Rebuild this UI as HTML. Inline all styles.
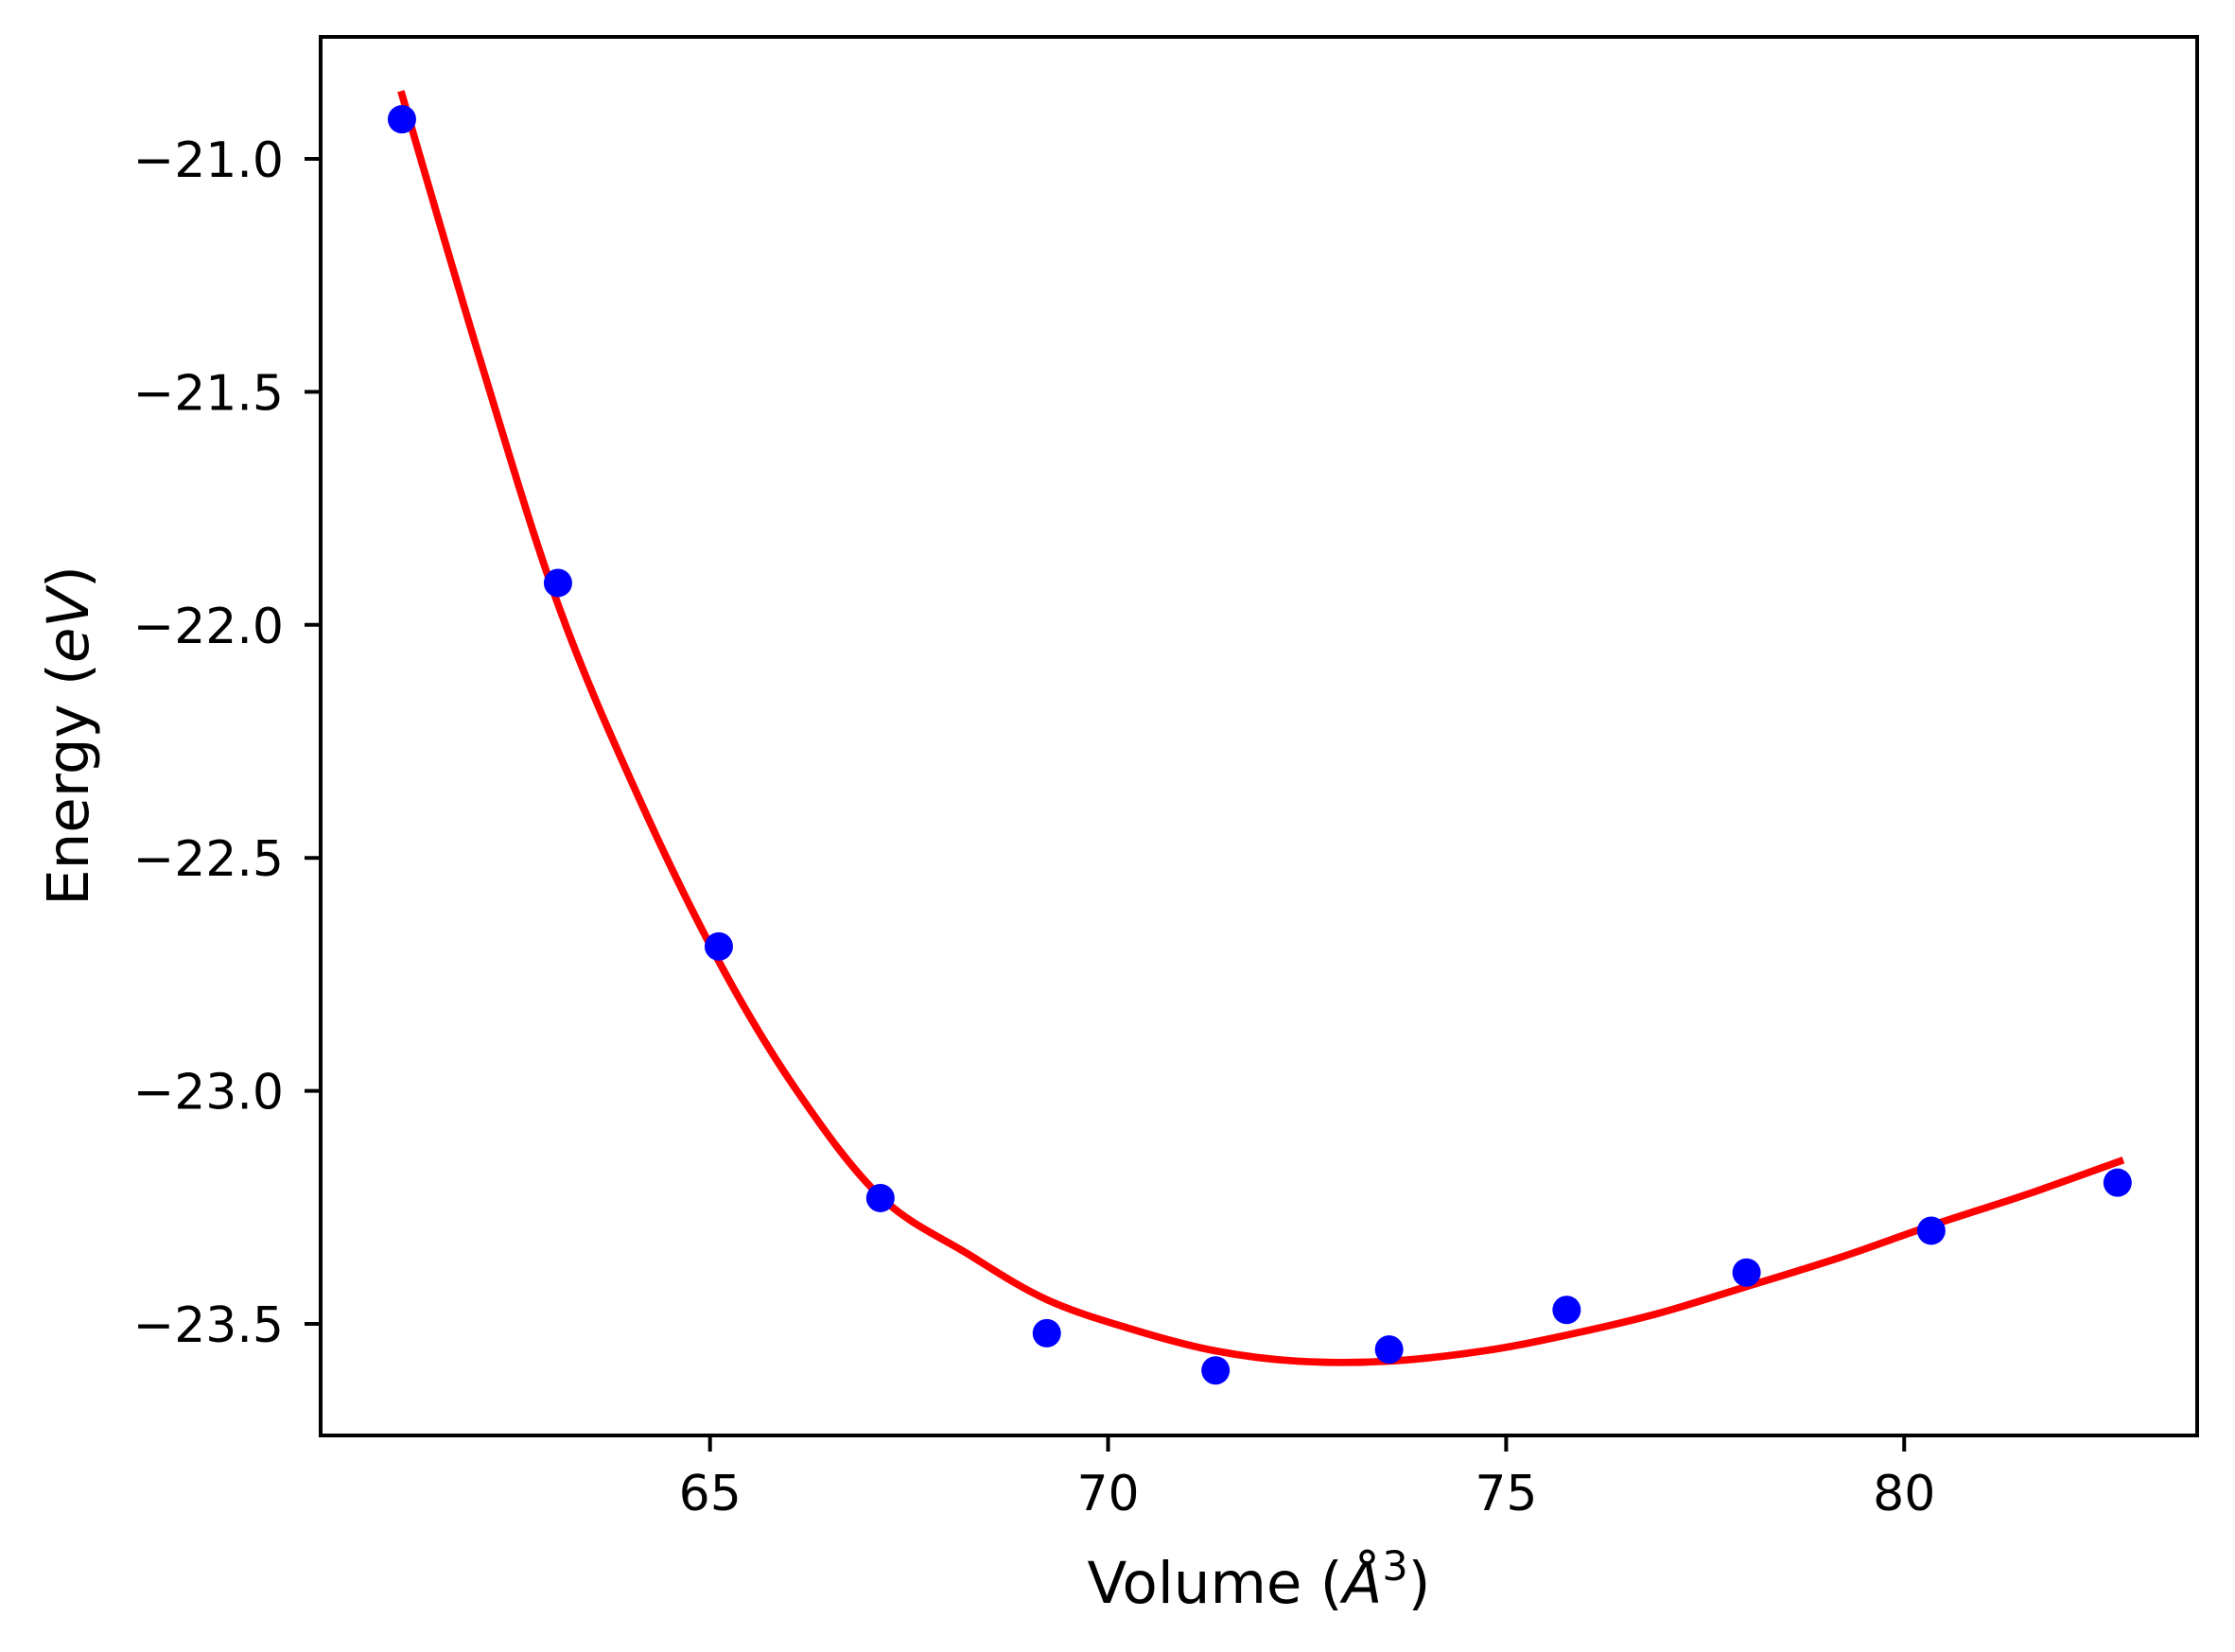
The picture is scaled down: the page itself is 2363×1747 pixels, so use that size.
<!DOCTYPE html>
<html><head><meta charset="utf-8"><style>
html,body{margin:0;padding:0;background:#fff;}
svg{display:block;}
text{font-family:"DejaVu Sans","Liberation Sans",sans-serif;fill:#000;}
</style></head><body>
<svg id="chart" width="2363" height="1747" viewBox="0 0 2363 1747" xmlns="http://www.w3.org/2000/svg">
<rect width="2363" height="1747" fill="#fff"/>
<g id="fit"></g>
<g id="pts"></g>
<g id="axes"></g>
<text x="1331" y="1695" font-size="61" text-anchor="middle">Volume (<tspan font-style="italic">Å</tspan><tspan font-size="43" dy="-24">3</tspan><tspan dy="24">)</tspan></text>
<text transform="translate(93,778) rotate(-90)" font-size="61" text-anchor="middle">Energy (<tspan font-style="italic">eV</tspan>)</text>
</svg>
<script>
const volumes = [61.13, 63.09, 65.11, 67.14, 69.23, 71.35, 73.53, 75.76, 78.02, 80.34, 82.68];
const energies = [-20.915, -21.91, -22.69, -23.23, -23.52, -23.60, -23.555, -23.47, -23.39, -23.30, -23.197];
const fitVolumes = [61.13, 62.12, 63.09, 64.10, 65.11, 66.08, 67.14, 68.24, 69.23, 70.31, 71.35, 72.38, 73.53, 74.72, 75.76, 76.88, 78.02, 79.22, 80.34, 81.56, 82.71];
const fitEnergies = [-20.862, -21.435, -21.956, -22.369, -22.722, -22.997, -23.227, -23.350, -23.448, -23.512, -23.558, -23.580, -23.580, -23.558, -23.524, -23.479, -23.420, -23.356, -23.289, -23.221, -23.151];
const xTicks = [65, 70, 75, 80];
const yTicks = [-21.0, -21.5, -22.0, -22.5, -23.0, -23.5];

const L = 339, R = 2323, T = 39, B = 1518;
function sx(v){ return 750.7 + (v - 65) * 84.17; }
function sy(e){ return 168 + (-21 - e) * 492.8; }
const NS = 'http://www.w3.org/2000/svg';
function mk(tag, attrs){ const el = document.createElementNS(NS, tag); for (const k in attrs) el.setAttribute(k, attrs[k]); return el; }

// fit curve (Catmull-Rom smoothing)
const P = fitVolumes.map((v,i)=>[sx(v), sy(fitEnergies[i])]);
let d = 'M' + P[0][0] + ' ' + P[0][1];
for (let i = 0; i < P.length - 1; i++) {
  const p0 = P[i-1] || P[i], p1 = P[i], p2 = P[i+1], p3 = P[i+2] || P[i+1];
  const c1 = [p1[0] + (p2[0]-p0[0])/6, p1[1] + (p2[1]-p0[1])/6];
  const c2 = [p2[0] - (p3[0]-p1[0])/6, p2[1] - (p3[1]-p1[1])/6];
  d += ' C' + c1.join(' ') + ' ' + c2.join(' ') + ' ' + p2.join(' ');
}
const path = mk('path', {d: d, fill: 'none', stroke: '#ff0000', 'stroke-width': 7.7, 'stroke-linecap': 'square'});


document.getElementById('fit').appendChild(path);

// data points
volumes.forEach((v, i) => {
  const c = mk('circle', {cx: sx(v), cy: sy(energies[i]), r: 15, fill: '#0000ff'});
  
  
  document.getElementById('pts').appendChild(c);
});

// axes frame and ticks
const ax = document.getElementById('axes');
const frame = mk('rect', {x: L, y: T, width: R - L, height: B - T, fill: 'none', stroke: '#000', 'stroke-width': 4});


ax.appendChild(frame);
xTicks.forEach(t => {
  const x = sx(t);
  const ln = mk('line', {x1: x, y1: B, x2: x, y2: B + 17, stroke: '#000', 'stroke-width': 4});
  
  
  ax.appendChild(ln);
  const tx = mk('text', {x: x, y: 1597, 'font-size': 52, 'text-anchor': 'middle'});
  tx.textContent = String(t);
  
  
  ax.appendChild(tx);
});
yTicks.forEach(t => {
  const y = sy(t);
  const ln = mk('line', {x1: L - 17, y1: y, x2: L, y2: y, stroke: '#000', 'stroke-width': 4});
  
  
  ax.appendChild(ln);
  const tx = mk('text', {x: 300, y: y + 19, 'font-size': 52, 'text-anchor': 'end'});
  tx.textContent = '\u2212' + Math.abs(t).toFixed(1);
  
  
  ax.appendChild(tx);
});
</script>
</body></html>
